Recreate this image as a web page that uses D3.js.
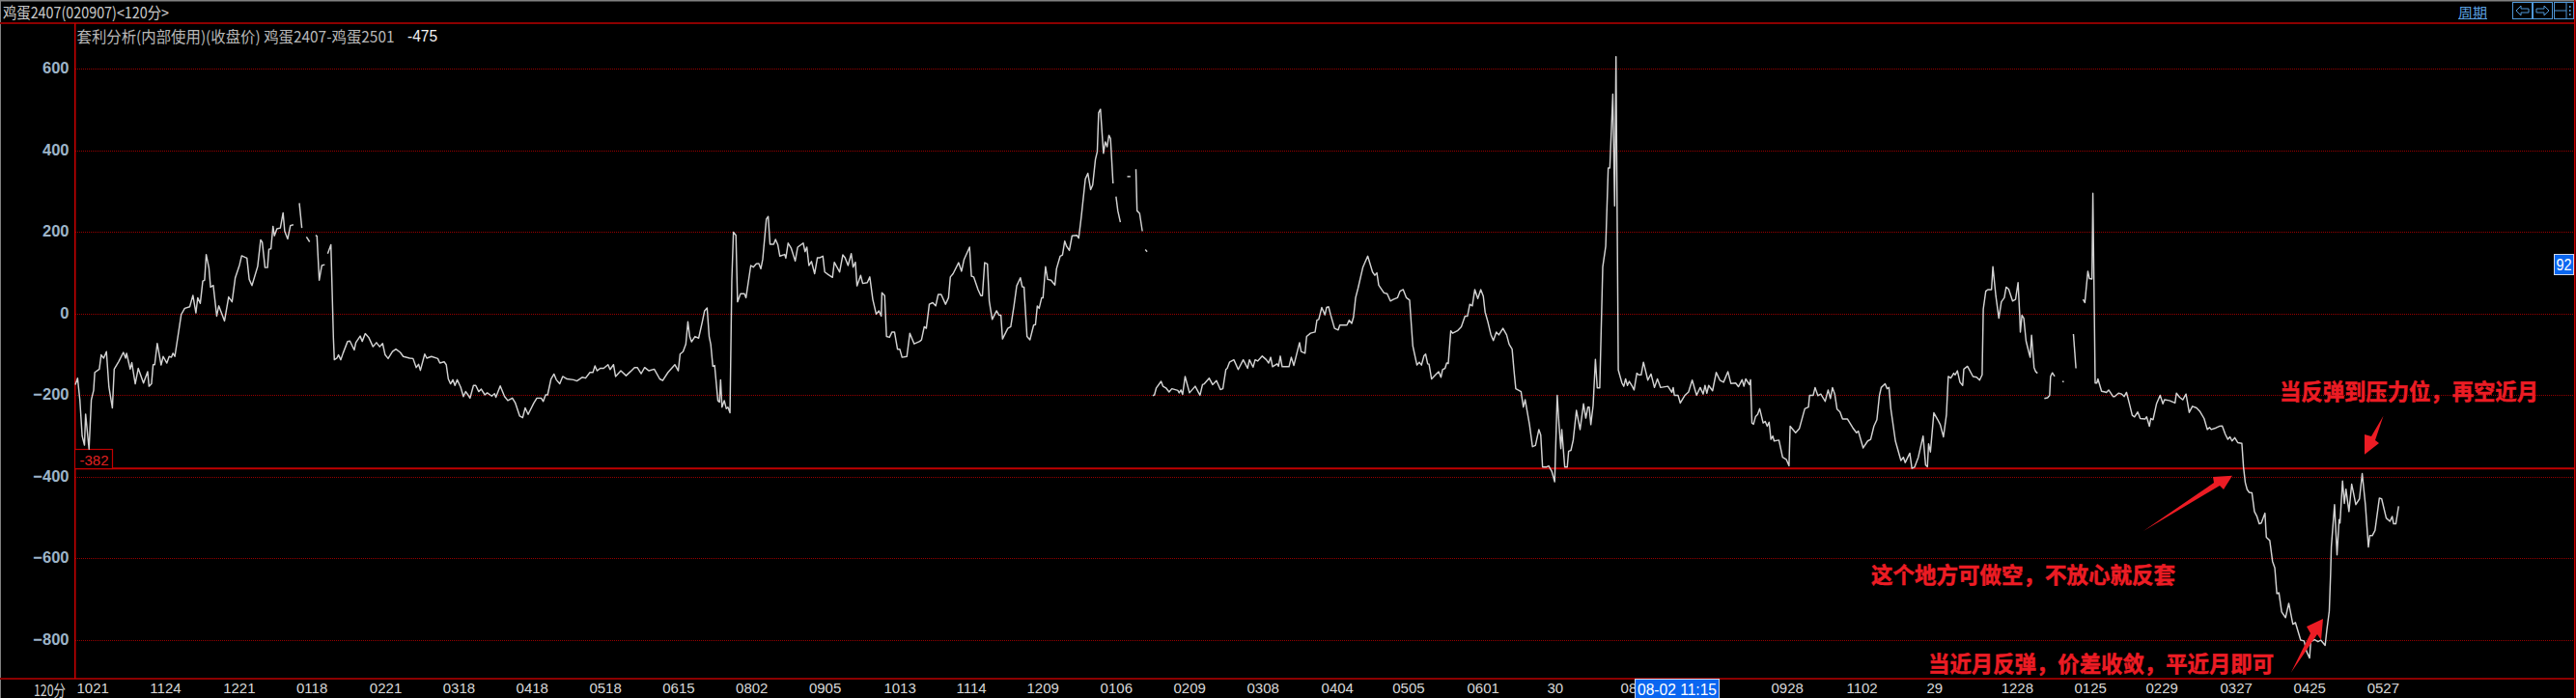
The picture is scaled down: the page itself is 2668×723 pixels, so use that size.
<!DOCTYPE html>
<html><head><meta charset="utf-8">
<script src="https://cdn.jsdelivr.net/npm/d3@7/dist/d3.min.js"></script>
<style>html,body{margin:0;background:#000;overflow:hidden}svg{display:block}</style>
</head><body><svg id="c" width="2668" height="723"></svg>
<script>
const yTicks=[600,400,200,0,-200,-400,-600,-800];
const xTickBars=[0,32,64,96,128,160,192,224,256,288,320,352.7,384.4,415.2,447.3,479.3,511.4,543.9,575,607.6,642.6,674.7,740.5,773.4,808.4,841,873,904.2,936.7,968.8,1000.9];
const xTickLabels=["1021","1124","1221","0118","0221","0318","0418","0518","0615","0802","0905","1013","1114","1209","0106","0209","0308","0404","0505","0601","30","08","0928","1102","29","1228","0125","0229","0327","0425","0527"];
const supportLevel=-379.5, supportLabel="-382", lastValue="-475", cursorValue="92", cursorDate="08-02 11:15";
const segA=[[0,-174],[1,-158],[2,-212],[3,-300],[4,-322],[4.5,-246],[6,-332],[7,-211],[8,-188],[8.5,-144],[10.5,-136],[11.3,-101],[12.4,-109],[13.6,-93],[14.7,-180],[16.2,-231],[17,-136],[19,-117],[21,-95],[22,-109],[22.4,-97],[24,-136],[24.7,-120],[26.2,-172],[27.5,-134],[29.8,-170],[31.6,-142],[32.2,-178],[33.3,-172],[34,-125],[34.7,-125],[35.8,-73],[37.5,-126],[38.4,-105],[40,-121],[41,-105],[42,-107],[42.7,-97],[43.5,-105],[46.3,-2],[47.8,13],[50,17],[51.4,45],[52.7,2],[53.5,39],[54.6,25],[55.7,80],[56.5,82],[57.2,145],[58.4,112],[59.1,65],[60.3,69],[61.8,-6],[62.7,19],[65.2,-18],[67,41],[68.5,29],[69.9,88],[71.8,120],[72.7,142],[75,136],[76,84],[77.2,69],[79.7,116],[81,181],[81.7,175],[82.9,113],[84,113],[84.6,158],[85.5,159],[86.4,214],[87,191],[88.1,208],[89.6,210],[90.8,247],[91.5,202],[92.8,183],[94,216],[95.3,218]];
const segB=[[97.9,271],[99,210]];
const segC=[[101,188],[102.4,176]];
const segD=[[105,192],[105.6,190],[106.6,82],[107.7,118],[109,120]];
const segE1=[[110.3,147],[111.7,169],[112.8,-60],[113.2,-113],[114.3,-109],[115,-101],[116,-113],[117,-97],[119,-68],[120,-67],[121.9,-89],[122.6,-71],[124.5,-55],[125.4,-68],[126.7,-49],[128.2,-58],[130.1,-81],[131.6,-71],[133,-81],[134.3,-73],[135.4,-101],[136.7,-110],[138.6,-93],[140.1,-87],[142,-95],[143.3,-105],[146.1,-109],[147.6,-110],[149,-132],[150,-124],[150.8,-139],[152.7,-99],[153.6,-109],[155.6,-105],[158.4,-110],[159.3,-121],[161.2,-118],[162.1,-125],[163,-160],[164,-172],[165,-162],[165.9,-176],[166.9,-162],[168.4,-180],[169.6,-203],[170.6,-191],[171.6,-199],[172.5,-207],[174,-176],[175,-176],[176.3,-191],[177.4,-185],[179,-199],[180,-194],[182,-202],[183.2,-196],[183.8,-205],[185.7,-177],[187.6,-203],[189,-213],[191,-207],[192.3,-219],[194.2,-251],[195.5,-255],[196.6,-231],[197.9,-247],[200.4,-219],[201.7,-207],[203.6,-207],[204.5,-215],[205.5,-199],[206.4,-199],[207.9,-160],[209.2,-148],[210.2,-162],[211.7,-172],[213,-154],[214.9,-160],[217.7,-162],[219.2,-165],[221.5,-156],[223,-158],[224.9,-144],[226.2,-144],[227.1,-128],[228,-140],[229.4,-134],[230.9,-134],[232.8,-125],[233.7,-137],[235.2,-125],[236.1,-154],[238.4,-140],[240.7,-152],[242.6,-142],[244.4,-132],[245.6,-132],[247.3,-147],[248.8,-132],[250.7,-140],[253,-136],[255.4,-160],[256.7,-164],[259,-144],[262,-125]];
const segE2=[[263.5,-140],[264.3,-99],[265.6,-93],[266.8,-75],[267.7,-20],[268.5,-56],[269.3,-69],[270.8,-56],[272.4,-60],[274,-20],[275,7],[276.1,14],[277,-56],[277.7,-75],[278.6,-129],[279.4,-127],[280.8,-213],[281.5,-217],[282,-162],[282.6,-229],[283.6,-213],[284.5,-233],[285.2,-229],[286.1,-243],[286.9,82],[287.6,200],[288.7,192],[289.4,29],[290.7,49],[292.4,49],[293.1,39],[295.2,118],[296.3,114],[297.6,122],[298.7,123],[299.6,110],[300.4,133],[302,232],[302.8,238],[303.6,170],[305.2,170],[306,182],[307,169],[307.9,141],[310,145],[310.5,136],[311.5,173],[312.8,161],[314.6,129],[315.7,163],[318.1,173],[318.9,152],[319.7,163],[320.6,118],[321.7,128],[323.1,98],[324.3,137],[325.4,137],[326.7,141],[327.5,102],[329,96],[330.9,89],[331.7,126],[334,102],[335.4,144],[336.4,137],[337.7,118],[339.1,147],[339.9,114],[340.9,126],[341.6,68],[343.2,94],[344.1,74],[346.1,76],[347.2,90],[348.5,35],[350,-1],[351.2,7],[352.2,-6],[352.5,51],[353.7,44],[354.5,-56],[355.8,-58],[356.9,-45],[358,-45],[359.3,-87],[360.3,-87],[361.3,-107],[363.4,-105],[364.7,-48],[366.6,-74],[369,-68],[369.8,-64],[371,-32],[371.9,-36],[373.2,23],[374.7,27],[376,19],[377.1,47],[378.4,47],[380.3,23],[381.6,39],[382.4,90],[383.6,98],[386,125],[387.3,104],[388.4,133],[390.8,163],[391.6,92],[392.6,90],[394.5,59],[395.7,44],[396.4,44],[397.4,125],[398.6,122],[399.4,31],[400.7,-14],[402.6,7],[403.7,-4],[404.5,-4],[405.2,-62],[407.5,-36],[408.8,-32],[410.2,19],[411.4,68],[413,88],[413.8,66],[414.6,65],[415.9,-56],[417.2,-64],[418.8,-28],[419.6,-27],[420.4,19],[421.2,13],[422.3,39],[422.9,39],[424,115],[424.9,84],[426.4,82],[428.1,70],[428.8,110],[430.4,141],[431.4,144],[432.4,178],[433.2,165],[434.4,155],[435.6,191],[437.7,192],[438.5,185],[439.6,236],[441.4,330],[442.5,344],[443.7,304],[444.6,315],[445.8,378],[446.6,397],[447.2,492],[448,501],[449.3,393],[450.1,421],[450.9,409],[451.7,437],[452.4,429],[453.5,319]];
const segF=[[454.8,287],[455.6,252],[456.7,224]];
const segG=[[459.7,336],[461.1,336]];
const segH=[[463.5,354],[464,252],[465.1,246],[466.3,202]];
const segI=[[467.6,157],[468.4,152]];
const segJ1=[[470.8,-201],[471.6,-199],[472.4,-182],[474.5,-166],[475.3,-178],[476.6,-182],[478,-192],[479.2,-184],[481.8,-188],[482.4,-194],[483.2,-187],[483.9,-198],[485,-154],[486.9,-194],[489.4,-178],[491.5,-200],[492.6,-174],[493.4,-172],[495.5,-158],[497,-174],[498.7,-164],[500.4,-186],[501.5,-184],[502.8,-137],[503.4,-134],[504.4,-119],[506.3,-113],[508.2,-137],[510.4,-113],[512.3,-134],[513.1,-113],[514.7,-131],[515.6,-113],[516.7,-116],[518.7,-104],[520.5,-113],[521.5,-121],[522.4,-107],[523.2,-130],[525.2,-123],[525.8,-129],[526.6,-104],[527.4,-130],[530.4,-130],[531.4,-107],[532.5,-127],[535,-71],[535.7,-93],[537.4,-97],[538.1,-56],[539.8,-48],[541.8,-45],[542.6,-16],[543.4,-14],[544.7,15],[546.1,-3],[546.8,15],[547.7,17],[548.6,-3],[550.3,-36],[551.9,-40],[552.6,-28],[555.7,-28],[556.7,-16],[557.8,-24],[558.6,-8],[559.5,39],[560.6,63],[562.7,114],[564.8,141],[566.9,102],[567.9,94],[568.8,100],[569.6,70],[571.9,51],[573.3,49],[574.7,31],[576,35],[577.8,39],[578.9,55],[580.3,59],[581.7,39],[583.1,33],[584.5,-79],[586.3,-126],[587.3,-119],[588.3,-126],[589.4,-103],[590.1,-99],[591,-123],[591.6,-124],[592.7,-160],[594.4,-150],[595.8,-142],[596.8,-156],[597.5,-137],[598.6,-134],[599.3,-121],[600,-122]];
const segJ2=[[601.1,-42],[601.9,-48],[604,-42],[605.7,-32],[607.3,-6],[608.4,-6],[609.4,23],[610.5,19],[611.6,59],[612.9,37],[614.2,59],[615.3,43],[616.1,4],[617.3,-20],[618.6,-51],[619.7,-66],[621,-45],[622.1,-52],[623.9,-36],[625.5,-52],[626.6,-75],[627.9,-87],[628.7,-138],[629.5,-184],[631.8,-191],[632.8,-229],[633.6,-211],[635.5,-272],[636.8,-326],[638.1,-323],[639.6,-284],[640.4,-297],[641.2,-376],[642.8,-376],[643.9,-373],[645.2,-386],[646.5,-412],[647.6,-200],[648.4,-272],[649.2,-331],[649.6,-284],[650.9,-376],[652,-376],[652.6,-337],[653.6,-335],[654.6,-310],[656,-237],[657.6,-284],[659.1,-221],[660.1,-256],[661,-229],[661.6,-229],[662.3,-272],[663.3,-225],[664.3,-112],[665.1,-182],[666.2,-182],[667.5,114],[668.8,165],[669.9,357],[670.6,357],[671.9,538],[672.7,264],[673.3,630],[674.3,-138],[675.9,-170],[676.7,-178],[677.5,-160],[678.3,-176],[679.1,-166],[680.4,-178],[681.2,-187],[682.4,-146],[683.2,-150],[684.3,-150],[685.3,-119],[687.2,-163],[688.6,-148],[690.1,-181],[691.4,-160],[692.8,-181],[696,-178],[697.7,-193],[698.3,-181],[698.8,-200],[700.4,-200],[701.4,-219],[703.3,-201],[705,-192],[706.6,-163],[708.5,-200],[710.1,-181],[711.4,-197],[712.2,-176],[713,-195],[713.8,-176],[715.5,-189],[717.1,-144],[718.7,-163],[720.3,-168],[722.2,-142],[723.5,-171],[725.6,-170],[726.8,-179],[728.4,-162],[729.2,-178],[730,-160],[731.6,-174],[732.1,-162],[732.7,-268],[733.4,-271],[734.3,-252],[735.2,-247],[736.1,-233],[737.6,-268],[738.5,-264],[739.4,-276],[740.2,-266],[741,-308],[741.8,-300],[742.4,-312],[744.5,-310],[746.1,-352],[747.7,-357],[748.9,-373],[749.4,-276],[751.8,-292],[753.4,-282],[755.8,-233],[757.4,-229],[757.9,-200],[759.5,-200],[760.3,-181],[761.5,-201],[762.8,-197],[764.7,-215],[766,-187],[767,-208],[767.9,-181],[768.9,-197],[769.9,-234],[771.2,-241],[772.3,-258],[774.4,-258],[776.8,-280],[778.4,-292],[779.2,-288],[781.3,-329],[783.3,-312],[784.6,-308],[786,-276],[787.3,-260],[788.4,-201],[789.2,-181],[790.9,-172],[791.8,-184],[792.6,-181],[793.4,-233],[795.4,-312],[797.8,-360],[798.9,-352],[799.7,-365],[801.7,-342],[802.6,-379],[803.8,-376],[805.4,-352],[807.5,-300],[808.6,-371],[809.4,-375],[809.9,-319],[810.7,-339],[812.2,-243],[813.9,-260],[815,-272],[816.4,-302],[817.7,-248],[818.5,-154],[819.6,-158],[820.9,-146],[821.5,-150],[822.5,-140],[823.6,-168],[824.8,-176],[825.3,-136],[826.9,-129],[829.3,-154],[830.9,-156],[832.2,-163],[833.3,-150],[833.8,11],[834.9,55],[835.8,59],[837.4,59],[838,115],[839.3,43],[840.6,-11],[841.7,29],[843,39],[843.8,65],[844.9,60],[846.6,31],[847.9,35],[849,76],[849.7,0],[850,-45],[850.7,-4],[851.5,-11],[852.5,-67],[853.9,-99],[854.3,-107],[854.9,-53],[856,-132],[856.7,-142],[857.5,-146]];
const segK=[[860.5,-208],[861.9,-206],[862.8,-200],[863.2,-154],[864,-145],[865,-154]];
const segL=[[868.4,-166],[869,-167]];
const segM=[[873.2,-50],[874.3,-134]];
const segN=[[877.4,35],[878.2,27],[879.5,104],[880.2,86],[881.3,85],[881.7,295],[882.7,-170],[883.4,-170],[883.9,-160],[885.5,-190],[887,-192],[887.6,-193],[888.6,-187],[890.5,-203],[891.2,-203],[892.9,-195],[894.3,-197],[895.4,-203],[896.4,-193],[897.5,-217],[898.9,-249],[899.9,-253],[901.3,-241],[902.4,-257],[904.5,-258],[905.2,-253],[906.4,-276],[907,-257],[908,-260],[909.5,-221],[911.1,-200],[912.3,-221],[913,-211],[915.1,-213],[917.6,-219],[918.2,-195],[919.6,-205],[921,-211],[922.4,-197],[923.8,-242],[925.2,-227],[927,-231],[928.4,-239],[930.3,-257],[931.7,-284],[932.7,-279],[933.4,-284],[935.5,-280],[936.9,-276],[938.2,-275],[939.6,-296],[940.7,-308],[941.6,-302],[942.5,-312],[943.7,-304],[945,-316],[946.8,-318],[947.5,-375],[948.3,-414],[949.1,-431],[950,-438],[951.2,-439],[952.3,-485],[953.4,-497],[954.4,-515],[955.3,-513],[956.9,-489],[957.5,-548],[959,-556],[960.2,-607],[961.2,-623],[962.1,-686],[963,-684],[964.2,-731],[965.9,-745],[967.3,-710],[969.1,-761],[970.2,-757],[972.5,-800],[974,-802],[975.1,-828],[976.4,-844],[976.9,-804],[978.6,-799],[980.1,-804],[981.3,-800],[983.2,-813],[983.9,-777],[985,-729],[985.6,-635],[985.9,-572],[987.3,-468],[988.4,-591],[989.3,-505],[989.7,-513],[990.8,-410],[991.6,-465],[992.3,-430],[993.6,-485],[994.8,-418],[995.4,-434],[996.6,-468],[998.2,-454],[999.4,-392],[1000.8,-469],[1002.1,-572],[1002.7,-544],[1003.8,-544],[1005,-531],[1006.9,-452],[1007.9,-454],[1009.9,-501],[1011.5,-509],[1012.5,-497],[1013.1,-515],[1014.1,-515],[1015.3,-472]];
const segments=[segA,segB,segC,segD,segE1.concat(segE2),segF,segG,segH,segI,segJ1.concat(segJ2),segK,segL,segM,segN];
const headerText="鸡蛋2407(020907)<120分>", studyText="套利分析(内部使用)(收盘价) 鸡蛋2407-鸡蛋2501", cornerLabel="120分", periodText="周期";
const notes=[
 {t:"当反弹到压力位，再空近月",x:2361,y:404,w:268},
 {t:"这个地方可做空，不放心就反套",x:1938,y:594,w:315},
 {t:"当近月反弹，价差收敛，平近月即可",x:1997,y:686,w:358}];
const arrows=[
 [[2468.5,430.7],[2456,452],[2449,450],[2449,470.7],[2464,459],[2460,456]],
 [[2220,550],[2293,500],[2292,494],[2312,492.7],[2303,507],[2299,503]],
 [[2372.8,696.7],[2393,656],[2389,649],[2406,641],[2404,663],[2400,657]]];

const W=2668,H=723,L=78,R=2666,T=24,B=703;
const CJK='"Noto Sans CJK SC","Noto Sans",sans-serif', NUM='"Liberation Sans Narrow","Liberation Sans",sans-serif';
const svg=d3.select("#c");
svg.append("rect").attr("width",W).attr("height",H).attr("fill","#000");
const x=d3.scaleLinear().domain([0,1000]).range([L,L+2370]);
const y=d3.scaleLinear().domain([600,-800]).range([71.3,663]);

// grid
svg.append("g").selectAll("line").data(yTicks).join("line")
 .attr("x1",L).attr("x2",R).attr("y1",d=>Math.round(y(d))+.5).attr("y2",d=>Math.round(y(d))+.5)
 .attr("stroke","#980000").attr("stroke-dasharray","1 1");

// frame
const red="#8c0000";
svg.append("rect").attr("x",0).attr("y",0).attr("width",W).attr("height",1.5).attr("fill","#808080");
svg.append("rect").attr("x",0).attr("y",0).attr("width",1).attr("height",H).attr("fill","#808080");
svg.append("rect").attr("x",0).attr("y",T-1).attr("width",R).attr("height",2).attr("fill",red);
svg.append("rect").attr("x",0).attr("y",B-1).attr("width",R).attr("height",2).attr("fill",red);
svg.append("rect").attr("x",L-1).attr("y",T).attr("width",1.5).attr("height",B-T).attr("fill","#c80000");
svg.append("rect").attr("x",R).attr("y",0).attr("width",1.5).attr("height",H).attr("fill","#c80000");

// axes
const yAxis=d3.axisLeft(y).tickValues(yTicks).tickSize(0).tickPadding(0).tickFormat(d3.format("d"));
const gy=svg.append("g").attr("transform","translate(71.5,-1.5)").call(yAxis);
gy.select(".domain").remove();
gy.selectAll("text").attr("fill","#9db4c8").attr("font-family",NUM).attr("font-size",16.5).attr("font-weight",700).attr("dy",".36em");
const xAxis=d3.axisBottom(x).tickValues(xTickBars).tickSize(0).tickPadding(0).tickFormat((d,i)=>xTickLabels[i]);
const gx=svg.append("g").attr("transform","translate(1,707)").call(xAxis);
gx.select(".domain").remove();
gx.selectAll("text").attr("text-anchor","start").attr("fill","#d8d8d8").attr("font-family",NUM).attr("font-size",15).attr("dy",".75em");

// support line
svg.append("line").attr("x1",L).attr("x2",R).attr("y1",y(supportLevel)).attr("y2",y(supportLevel)).attr("stroke","#c00000").attr("stroke-width",2);
svg.append("rect").attr("x",L-.5).attr("y",465.5).attr("width",39).attr("height",20).attr("fill","#000").attr("stroke","#c00000").attr("stroke-width",1.2);
svg.append("text").attr("x",L+19.5).attr("y",476).attr("text-anchor","middle").attr("dominant-baseline","central").attr("fill","#e02020").attr("font-family",NUM).attr("font-size",15).text(supportLabel);

// spread line
const line=d3.line().x(d=>x(d[0])).y(d=>y(d[1]));
svg.append("g").selectAll("path").data(segments).join("path")
 .attr("d",line).attr("fill","none").attr("stroke","#d2d2d2").attr("stroke-width",1.45).attr("stroke-linejoin","round");

// header text
function fit(t,x0,yc,w,size,fill,fam){return svg.append("text").attr("x",x0).attr("y",yc).attr("dominant-baseline","central").attr("fill",fill).attr("font-family",fam).attr("font-size",size).attr("textLength",w).attr("lengthAdjust","spacingAndGlyphs").text(t);}
fit(headerText,3,12,172,16,"#c8c8c8",CJK);
fit(studyText,79.5,37,329,16,"#b8b8b8",CJK);
fit(lastValue,422,37,31,17,"#f4f4f4",NUM);
fit(cornerLabel,35,714,33,16,"#d0d0d0",CJK);
fit(periodText,2546,12,30,14,"#5aa0e0",CJK);
svg.append("line").attr("x1",2546).attr("x2",2576).attr("y1",19.5).attr("y2",19.5).attr("stroke","#5aa0e0");

// toolbar buttons
const btn=svg.append("g").attr("fill","none").attr("stroke","#4f97d8").attr("stroke-width",1);
[[2602.5,20],[2623.5,20],[2645.5,20]].forEach(b=>btn.append("rect").attr("x",b[0]).attr("y",2.5).attr("width",b[1]).attr("height",17));
btn.append("path").attr("d","M2606 11l5-5v3h8v4h-8v3z");
btn.append("path").attr("d","M2640 11l-5-5v3h-8v4h8v3z");
btn.append("path").attr("d","M2646 11h12M2658 3v16");
svg.append("g").selectAll("rect").data([6,10,14]).join("rect").attr("x",2661).attr("y",d=>d).attr("width",1.5).attr("height",2).attr("fill","#4f97d8");

// cursor tags
svg.append("rect").attr("x",2645.5).attr("y",263.5).attr("width",20).attr("height",21).attr("fill","#0a66f0").attr("stroke","#cfd8e8");
fit(cursorValue,2647.5,274.5,16,16,"#fff",NUM);
svg.append("rect").attr("x",1693.5).attr("y",703.5).attr("width",87).attr("height",20).attr("fill","#0a66f0").attr("stroke","#cfd8e8");
fit(cursorDate,1696,714,82,17,"#fff",NUM);

// annotations
const nc="#ec1c24";
svg.append("g").selectAll("text").data(notes).join("text")
 .attr("x",d=>d.x).attr("y",d=>d.y).attr("dominant-baseline","central").attr("fill",nc).attr("stroke",nc).attr("stroke-width",.5)
 .attr("font-family",CJK).attr("font-weight",700).attr("font-size",23).attr("textLength",d=>d.w).attr("lengthAdjust","spacingAndGlyphs").text(d=>d.t);
svg.append("g").selectAll("path").data(arrows).join("path").attr("d",d=>"M"+d.join("L")+"Z").attr("fill",nc);
</script></body></html>
